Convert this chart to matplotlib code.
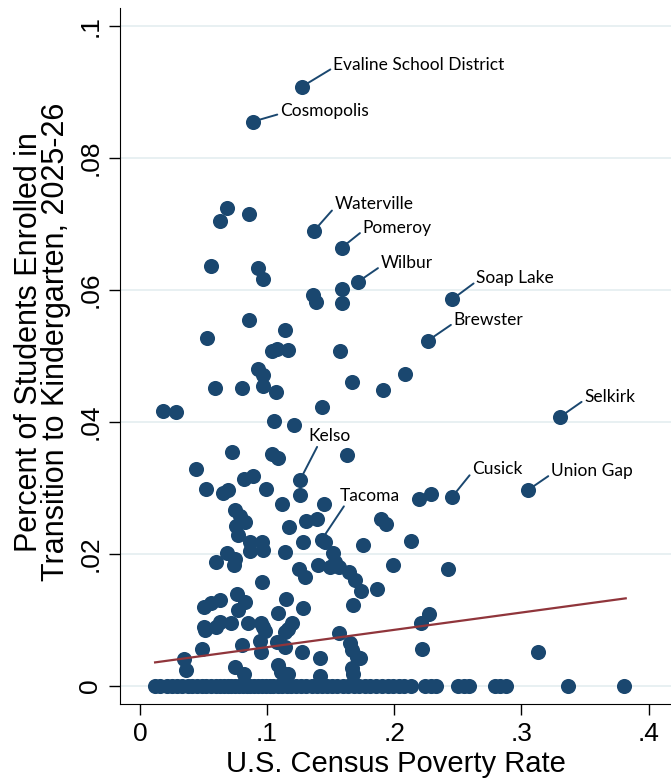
import matplotlib
matplotlib.use("Agg")
import matplotlib.pyplot as plt

# labelled districts: poverty rate, share of students in TK
lab_names = ['Evaline School District', 'Cosmopolis', 'Waterville', 'Pomeroy', 'Wilbur',
             'Soap Lake', 'Brewster', 'Selkirk', 'Cusick', 'Union Gap', 'Kelso', 'Tacoma']
lab_pov = [0.1276, 0.0890, 0.1367, 0.1587, 0.1713, 0.2457, 0.2263, 0.3306, 0.2457, 0.3052, 0.1259, 0.1430]
lab_tk = [0.0908, 0.0855, 0.0689, 0.0664, 0.0612, 0.0586, 0.0523, 0.0408, 0.0287, 0.0297, 0.0312, 0.0222]

# other districts with some TK enrollment
pov = [0.0682, 0.0631, 0.0858, 0.0560, 0.0932, 0.0971, 0.1362, 0.1385, 0.1590, 0.1587,
       0.0855, 0.0526, 0.1139, 0.1037, 0.1076, 0.1167, 0.1574, 0.0927, 0.0965, 0.1666,
       0.2085, 0.1908, 0.0591, 0.0803, 0.0971, 0.1068, 0.0180, 0.0285, 0.1430, 0.1055,
       0.1212, 0.0727, 0.1037, 0.1090, 0.1625, 0.0439, 0.0818, 0.0892, 0.1263, 0.0519,
       0.0656, 0.0693, 0.0994, 0.1118, 0.1446, 0.2197, 0.2289, 0.0748, 0.0788, 0.0827,
       0.0759, 0.0774, 0.1171, 0.1308, 0.1391, 0.1896, 0.1936, 0.1456, 0.1285, 0.0866,
       0.0958, 0.0966, 0.0864, 0.1757, 0.2132, 0.0683, 0.0601, 0.0748, 0.0740, 0.1142,
       0.1517, 0.1535, 0.1991, 0.2425, 0.1403, 0.1495, 0.1562, 0.1641, 0.1692, 0.1739,
       0.1862, 0.1252, 0.1299, 0.0958, 0.1674, 0.0762, 0.0827, 0.0774, 0.1152, 0.1285,
       0.0505, 0.0560, 0.0631, 0.1089, 0.2208, 0.2276, 0.0505, 0.0513, 0.0597, 0.0631,
       0.0717, 0.0847, 0.0953, 0.0971, 0.0984, 0.1200, 0.1167, 0.1142, 0.1568, 0.0945,
       0.0801, 0.0487, 0.1076, 0.1142, 0.0954, 0.1273, 0.1653, 0.1666, 0.1705, 0.1731,
       0.2221, 0.3128, 0.1417, 0.0347, 0.0362, 0.0748, 0.0819, 0.1089, 0.1106, 0.1167,
       0.1666, 0.1678, 0.1417]
tk = [0.0724, 0.0705, 0.0715, 0.0636, 0.0634, 0.0616, 0.0592, 0.0582, 0.0602, 0.0581,
      0.0555, 0.0528, 0.0540, 0.0507, 0.0510, 0.0509, 0.0508, 0.0480, 0.0471, 0.0461,
      0.0472, 0.0449, 0.0452, 0.0451, 0.0455, 0.0446, 0.0417, 0.0415, 0.0422, 0.0401,
      0.0395, 0.0354, 0.0352, 0.0345, 0.0350, 0.0329, 0.0314, 0.0318, 0.0289, 0.0298,
      0.0292, 0.0297, 0.0299, 0.0276, 0.0276, 0.0284, 0.0291, 0.0267, 0.0257, 0.0249,
      0.0242, 0.0229, 0.0241, 0.0250, 0.0253, 0.0253, 0.0245, 0.0219, 0.0218, 0.0218,
      0.0218, 0.0206, 0.0205, 0.0214, 0.0220, 0.0201, 0.0188, 0.0193, 0.0183, 0.0203,
      0.0201, 0.0188, 0.0184, 0.0177, 0.0184, 0.0181, 0.0181, 0.0173, 0.0161, 0.0144,
      0.0147, 0.0177, 0.0165, 0.0158, 0.0123, 0.0140, 0.0128, 0.0116, 0.0132, 0.0118,
      0.0120, 0.0126, 0.0131, 0.0111, 0.0095, 0.0109, 0.0090, 0.0085, 0.0090, 0.0097,
      0.0096, 0.0095, 0.0096, 0.0089, 0.0083, 0.0095, 0.0087, 0.0082, 0.0080, 0.0068,
      0.0062, 0.0057, 0.0067, 0.0060, 0.0051, 0.0052, 0.0065, 0.0055, 0.0044, 0.0042,
      0.0056, 0.0052, 0.0042, 0.0041, 0.0024, 0.0029, 0.0018, 0.0032, 0.0022, 0.0019,
      0.0028, 0.0019, 0.0015]

# districts with no TK enrollment
pov_zero = [0.012, 0.016, 0.021, 0.025, 0.029, 0.033, 0.038, 0.041, 0.045, 0.049,
            0.052, 0.056, 0.060, 0.063, 0.066, 0.069, 0.072, 0.075, 0.078, 0.081,
            0.084, 0.087, 0.090, 0.093, 0.096, 0.099, 0.102, 0.105, 0.109, 0.112,
            0.116, 0.119, 0.123, 0.127, 0.131, 0.135, 0.139, 0.143, 0.147, 0.151,
            0.155, 0.160, 0.164, 0.168, 0.172, 0.177, 0.181, 0.186, 0.190, 0.195,
            0.199, 0.204, 0.208, 0.213, 0.224, 0.229, 0.233, 0.250, 0.255, 0.259,
            0.279, 0.283, 0.288, 0.337, 0.381]

# linear fit line endpoints
fit_x = [0.012, 0.382]
fit_y = [0.0036, 0.0133]

# label offsets in pixels (dx, dy) and where the leader meets the text
lab_off = [(31, 22), (27, 11), (21, 27), (21, 20), (23, 19), (24, 21),
           (26, 21), (24, 20), (20, 28), (23, 19), (8, 44), (18, 44)]
lab_rel = [(0, 0.3)] * 10 + [(0.25, 0), (0.1, 0)]

navy = '#1a476f'
maroon = '#90353b'

fig = plt.figure(figsize=(6.71, 7.83), dpi=100)
ax = fig.add_axes([0.1794, 0.1009, 0.8206, 0.8889])

for v in [0, 0.02, 0.04, 0.06, 0.08, 0.1]:
    ax.axhline(v, color='#e6eff1', lw=1.3, zorder=0)

ax.scatter(pov_zero, [0] * len(pov_zero), s=118, color=navy, lw=0, zorder=3)
ax.scatter(pov, tk, s=118, color=navy, lw=0, zorder=3)
ax.scatter(lab_pov, lab_tk, s=118, color=navy, lw=0, zorder=3)
ax.plot(fit_x, fit_y, color=maroon, lw=1.6, zorder=4)

for name, x, y, off, rel in zip(lab_names, lab_pov, lab_tk, lab_off, lab_rel):
    ax.annotate(name, (x, y), xytext=off, textcoords='offset pixels',
                ha='left', va='center', fontsize=12.5, family=['Lato', 'DejaVu Sans'],
                arrowprops=dict(arrowstyle='-', color=navy, lw=1.4, shrinkA=0, shrinkB=0,
                                relpos=rel),
                zorder=2)

ax.set_xlim(-0.0153, 0.4176)
ax.set_ylim(-0.0027, 0.1027)
ax.set_xticks([0, 0.1, 0.2, 0.3, 0.4])
ax.set_xticklabels(['0', '.1', '.2', '.3', '.4'])
ax.set_yticks([0, 0.02, 0.04, 0.06, 0.08, 0.1])
ax.set_yticklabels(['0', '.02', '.04', '.06', '.08', '.1'], rotation=90, va='center')

font = ['Liberation Sans', 'DejaVu Sans']
for lab in ax.get_xticklabels() + ax.get_yticklabels():
    lab.set_family(font)
    lab.set_fontsize(19)
ax.tick_params(direction='out', length=8, width=1, pad=5)

ax.set_xlabel('U.S. Census Poverty Rate', fontsize=21, family=font, labelpad=3)
ax.set_ylabel('Percent of Students Enrolled in\nTransition to Kindergarten, 2025-26',
              fontsize=22, family=font, linespacing=0.88)
ax.yaxis.set_label_coords(-0.09, 0.52)

ax.spines['top'].set_visible(False)
ax.spines['right'].set_visible(False)

plt.savefig('out.png', dpi=100)
